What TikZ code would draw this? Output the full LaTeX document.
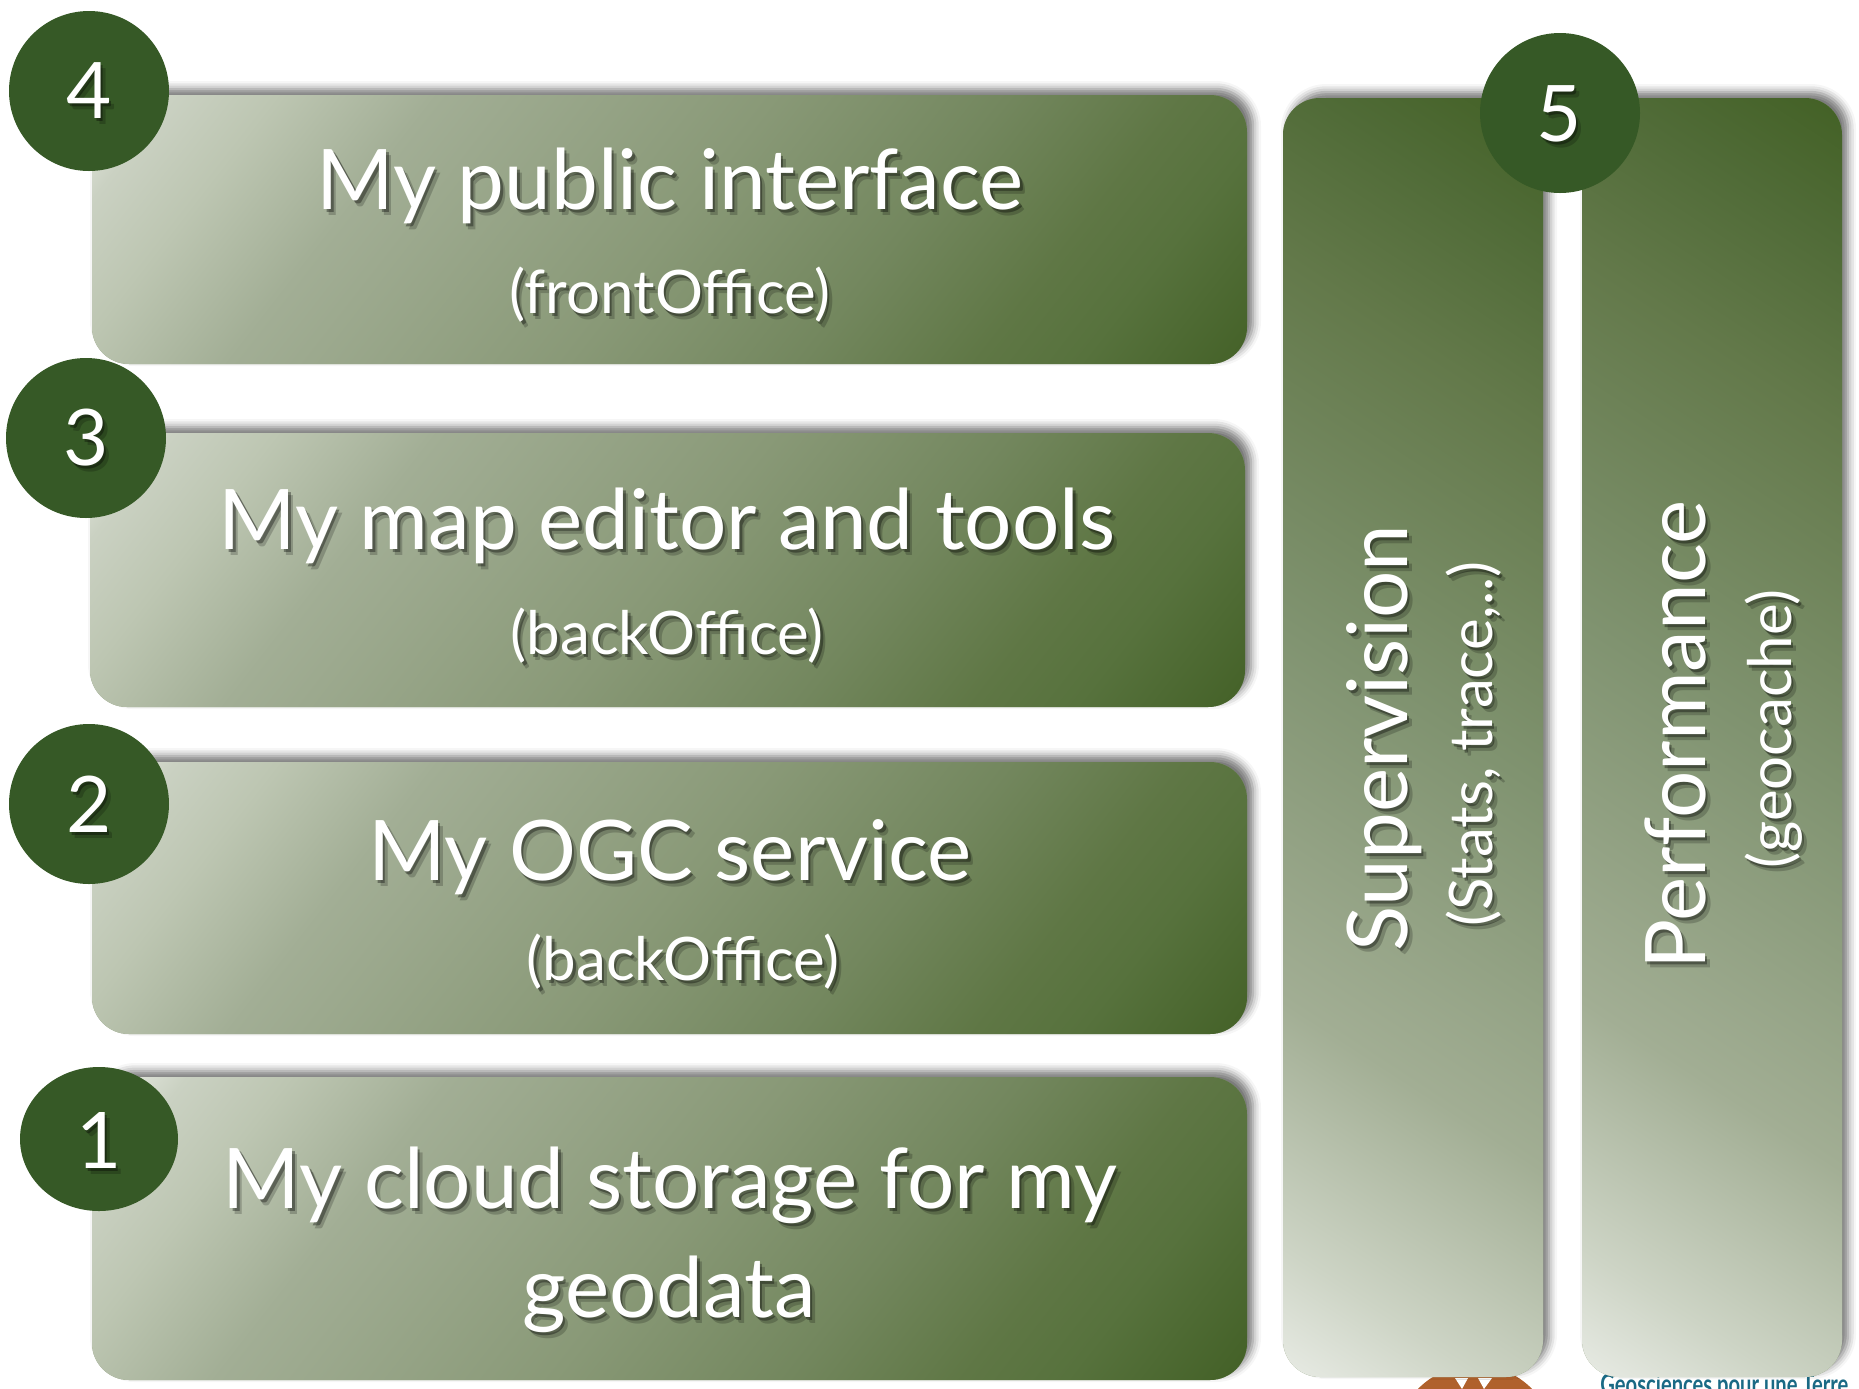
\documentclass[tikz,border=0pt]{standalone}
\usepackage{fontspec}
\setmainfont{Lato}
\usetikzlibrary{shadows.blur,shapes.geometric}
\definecolor{circ}{HTML}{365926}
\definecolor{brgm}{HTML}{B0612C}
\definecolor{tealtxt}{HTML}{1A6A85}
% horizontal box gradient
\definecolor{h0}{HTML}{F0F2EE}
\definecolor{h1}{HTML}{E0E4DA}
\definecolor{h2}{HTML}{CAD1C2}
\definecolor{h3}{HTML}{BDC6B2}
\definecolor{h4}{HTML}{A2AE95}
\definecolor{h5}{HTML}{899977}
\definecolor{h6}{HTML}{73875E}
\definecolor{h7}{HTML}{5F7745}
\definecolor{h8}{HTML}{57723D}
\definecolor{h9}{HTML}{3E5C21}
\pgfdeclarehorizontalshading{hgrad}{100bp}{color(0bp)=(h0); color(25bp)=(h0); color(27.5bp)=(h1); color(29.5bp)=(h2); color(33bp)=(h3); color(38.5bp)=(h4); color(50bp)=(h5); color(58bp)=(h6); color(64bp)=(h7); color(67.5bp)=(h8); color(75bp)=(h9); color(100bp)=(h9)}
% vertical box gradient
\definecolor{v0}{HTML}{F0F2EE}
\definecolor{v1}{HTML}{CDD4C5}
\definecolor{v2}{HTML}{A2AE94}
\definecolor{v3}{HTML}{809370}
\definecolor{v4}{HTML}{63794A}
\definecolor{v5}{HTML}{506B37}
\definecolor{v6}{HTML}{3F5E20}
\pgfdeclareverticalshading{vgrad}{100bp}{color(0bp)=(v0); color(25bp)=(v0); color(30.5bp)=(v1); color(38.6bp)=(v2); color(51bp)=(v3); color(63bp)=(v4); color(69bp)=(v5); color(75bp)=(v6); color(100bp)=(v6)}
\newcommand{\bigf}{\fontsize{41.8}{50}\selectfont}
\newcommand{\subf}{\fontsize{30}{36}\selectfont}
\newcommand{\numf}{\fontsize{39}{47}\selectfont}
\newcommand{\shtxt}[5]{%
  \node[#4, text=black, text opacity=.35] (#1s1) at (#2+2.5,#3+3) {#5};
  \node[#4, text=black, text opacity=.2] (#1s2) at (#2+5,#3+6) {#5};
  \node[#4, text=white] (#1) at (#2,#3) {#5};}
% gradient box: name, cx, cy, w, h, shading, angle (all in px)
\newcommand{\gbox}[7]{%
  \pgfmathsetmacro{\gbW}{#4*cos(abs(#7))+#5*sin(abs(#7))}%
  \pgfmathsetmacro{\gbH}{#4*sin(abs(#7))+#5*cos(abs(#7))}%
  \node[boxbase, minimum width=#4*0.5pt, minimum height=#5*0.5pt, path picture={
    \shade[shading=#6, transform canvas={rotate around={#7:(path picture bounding box.center)}}]
      ([shift={(-\gbW/2,-\gbH/2)}]path picture bounding box.center) rectangle
      ([shift={(\gbW/2,\gbH/2)}]path picture bounding box.center);
  }] (#1) at (#2,#3) {};}
\tikzset{
  boxshadow/.style={blur shadow={shadow xshift=3pt, shadow yshift=3pt, shadow blur radius=4pt, shadow opacity=55}},
  boxbase/.style={rectangle, rounded corners=18.5pt, fill=h5, boxshadow, inner sep=0pt},
  numc/.style={circle, fill=circ, minimum size=80pt, inner sep=0pt},
  txt/.style={inner sep=0pt, anchor=base},
  dig/.style={inner sep=0pt, anchor=center, font=\numf},
}
\begin{document}
\begin{tikzpicture}[x=0.5pt,y=-0.5pt]
\useasboundingbox (0,0) rectangle (1859,1388);
\clip (0,0) rectangle (1859,1388);
% logo fragment behind
\fill[brgm] (1475,1445) circle (80);
\fill[white] (1455,1378) -- (1468,1378) -- (1462,1389) -- cycle;
\fill[white] (1478,1378) -- (1492,1378) -- (1484,1389) -- cycle;
\node[anchor=base west, inner sep=0pt, text=tealtxt, font=\bfseries\fontsize{14}{16}\selectfont] (logo) at (1600,1394) {\scalebox{0.72}[1]{Geosciences pour une Terre}};
% horizontal boxes
\gbox{b4}{669.5}{229.5}{1155}{269}{hgrad}{-38}
\gbox{b3}{667.5}{570}{1155}{274}{hgrad}{-38}
\gbox{b2}{669.5}{898}{1155}{272}{hgrad}{-38}
\gbox{b1}{669.5}{1228.5}{1155}{303}{hgrad}{-38}
% vertical boxes
\gbox{bsup}{1413}{737.5}{260}{1279}{vgrad}{-33}
\gbox{bperf}{1712}{737.5}{260}{1279}{vgrad}{-33}
% number circles
\node[numc] (c4) at (89,91) {};
\node[numc] (c3) at (86,438) {};
\node[numc] (c2) at (89,804) {};
\node[ellipse, fill=circ, minimum width=79pt, minimum height=72pt, inner sep=0pt] (c1) at (99,1139) {};
\node[numc] (c5) at (1560,113) {};
\shtxt{n4}{89}{91}{dig}{4}
\shtxt{n3}{86}{438}{dig}{3}
\shtxt{n2}{89}{804}{dig}{2}
\shtxt{n1}{99}{1140}{dig}{1}
\shtxt{n5}{1559}{114}{dig}{5}
% texts
\shtxt{t4}{670}{209}{txt,font=\bigf}{My public interface}
\shtxt{s4}{670}{313}{txt,font=\subf}{(frontOffice)}
\shtxt{t3}{667}{549}{txt,font=\bigf}{My map editor and tools}
\shtxt{s3}{667}{654}{txt,font=\subf}{(backOffice)}
\shtxt{t2}{670}{880}{txt,font=\bigf}{My OGC service}
\shtxt{s2}{683}{980}{txt,font=\subf}{(backOffice)}
\shtxt{t1}{670}{1208}{txt,font=\bigf}{My cloud storage for my}
\shtxt{g1}{669}{1317}{txt,font=\bigf}{geodata}
\shtxt{tv}{1407}{738}{txt,rotate=90,font=\bigf}{Supervision}
\shtxt{sv}{1492}{744}{txt,rotate=90,font=\subf}{(Stats, trace,..)}
\shtxt{tp}{1705}{735}{txt,rotate=90,font=\bigf}{Performance}
\shtxt{sp}{1791}{729}{txt,rotate=90,font=\subf}{(geocache)}
\end{tikzpicture}
\end{document}
